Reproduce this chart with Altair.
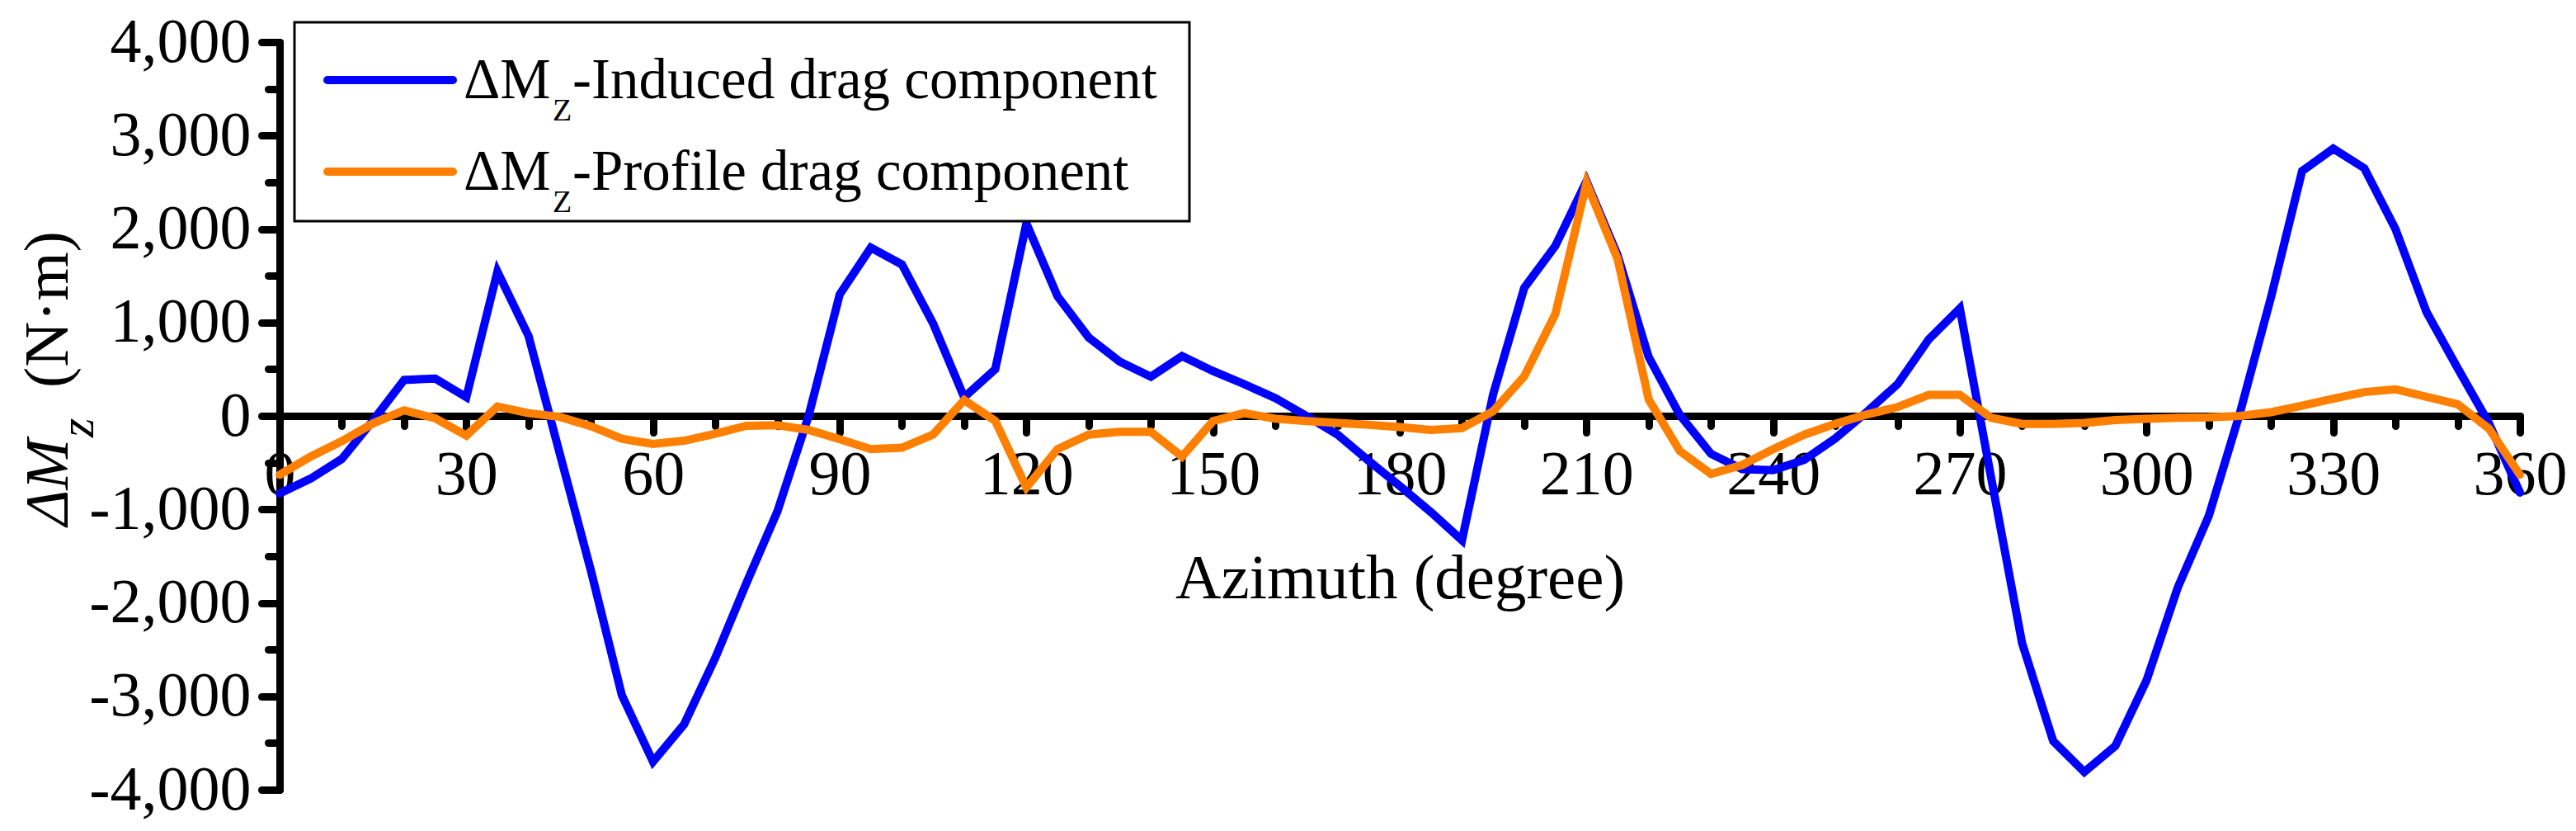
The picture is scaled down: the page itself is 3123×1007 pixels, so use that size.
import altair as alt
import pandas as pd

# azimuth every 5 degrees (N*m)
azimuth = list(range(0, 361, 5))
induced = [
    -830, -670, -460, -50, 385, 400, 200, 1545, 855, -400,
    -1650, -2990, -3700, -3300, -2590, -1790, -1020, 0, 1300, 1800,
    1620, 990, 200, 500, 2060, 1280, 840, 580, 420, 640,
    480, 340, 190, 0, -200, -480, -750, -1030, -1330, 230,
    1370, 1820, 2510, 1720, 630, 10, -405, -570, -580, -470,
    -240, 40, 340, 820, 1150, -650, -2430, -3480, -3810, -3530,
    -2830, -1840, -1070, 30, 1270, 2620, 2860, 2650, 2000, 1110,
    510, -75, -820,
]
profile = [
    -630, -435, -270, -80, 60, -25, -210, 100, 30, -10,
    -110, -245, -300, -265, -190, -105, -100, -150, -250, -355,
    -340, -200, 170, -55, -765, -355, -200, -170, -170, -435,
    -55, 30, -30, -55, -75, -95, -120, -150, -130, 50,
    424, 1090, 2490, 1680, 175, -375, -620, -525, -355, -200,
    -85, 15, 95, 225, 225, -20, -85, -85, -75, -45,
    -30, -20, -15, 0, 40, 110, 185, 255, 285, 205,
    125, -135, -630,
]

legend_tails = ["-Induced drag component", "-Profile drag component"]
colors = ["#0000FF", "#FF8000"]
x_ticks = list(range(0, 361, 10))
y_ticks = list(range(-4000, 4001, 500))

FONT = "Liberation Serif"
W, H = 2716, 906

df = pd.DataFrame({"azimuth": azimuth, "induced": induced, "profile": profile})

x_enc = alt.X(
    "azimuth:Q",
    scale=alt.Scale(domain=[0, 360], nice=False),
    axis=alt.Axis(
        values=x_ticks,
        labelExpr="datum.value % 30 === 0 ? datum.label : ''",
        labelFlush=False, labelOverlap=False, labelLimit=0,
        offset=-H / 2,   # x axis crosses at y = 0
        tickSize={"condition": {"test": "datum.value % 30 === 0", "value": 20}, "value": 12},
        tickWidth=9, tickColor="black", tickCap="round",
        domainWidth=9, domainColor="black", domainCap="round",
        labelFont=FONT, labelFontSize=76, labelColor="black", labelPadding=14,
        grid=False,
        title="Azimuth (degree)", titleFont=FONT, titleFontSize=77,
        titleFontWeight="normal", titleColor="black", titlePadding=50,
    ),
)
y_enc = alt.Y(
    "value:Q",
    scale=alt.Scale(domain=[-4000, 4000], nice=False),
    axis=alt.Axis(
        values=y_ticks,
        labelExpr="datum.value % 1000 === 0 ? (datum.value < 0 ? '-' : '') + format(abs(datum.value), ',') : ''",
        labelOverlap=False, labelLimit=0,
        tickSize={"condition": {"test": "datum.value % 1000 === 0", "value": 22}, "value": 14},
        tickWidth=9, tickColor="black", tickCap="round",
        domainWidth=9, domainColor="black", domainCap="round",
        labelFont=FONT, labelFontSize=76, labelColor="black", labelPadding=13,
        grid=False, title=None,
    ),
)

lines = []
for col, c in zip(["induced", "profile"], colors):
    lines.append(
        alt.Chart(df)
        .transform_calculate(value=f"datum.{col}")
        .mark_line(color=c, strokeWidth=10, strokeCap="round", strokeJoin="miter")
        .encode(x=x_enc, y=y_enc)
    )

one = pd.DataFrame({"i": [0]})

def txt(s, x, y, size, **kw):
    return alt.Chart(one).mark_text(
        text=s, font=FONT, fontSize=size, color="black", align="left",
        baseline="alphabetic", **kw
    ).encode(x=alt.value(x), y=alt.value(y))

# legend box
box = alt.Chart(one).mark_rect(fill="white", stroke="black", strokeWidth=3).encode(
    x=alt.value(18), x2=alt.value(1103), y=alt.value(-24), y2=alt.value(217)
)
legend = [box]
for k, (tail, c) in enumerate(zip(legend_tails, colors)):
    dy = k * 111
    legend.append(
        alt.Chart(one).mark_rule(color=c, strokeWidth=10, strokeCap="round").encode(
            x=alt.value(58), x2=alt.value(210), y=alt.value(46 + dy), y2=alt.value(46 + dy)
        )
    )
    legend.append(txt("ΔM", 223, 68 + dy, 69))
    legend.append(txt("Z", 331, 95 + dy, 38))
    legend.append(txt(tail, 355, 68 + dy, 69))

# y axis title: ΔM_z (N·m)
ytitle = [
    txt("ΔM", -257, 586, 74, angle=270, fontStyle="italic"),
    txt("z", -226, 479, 60, angle=270, fontStyle="italic"),
    txt("(N·m)", -257, 419, 76, angle=270),
]

chart = alt.layer(*lines, *legend, *ytitle).properties(
    width=W, height=H,
    autosize=alt.AutoSizeParams(type="none"),
    padding={"left": 331, "top": 43, "right": 60, "bottom": 40},
    background="white",
).configure_view(stroke=None)

chart.save("out.html", embed_options={"renderer": "svg", "actions": False})
